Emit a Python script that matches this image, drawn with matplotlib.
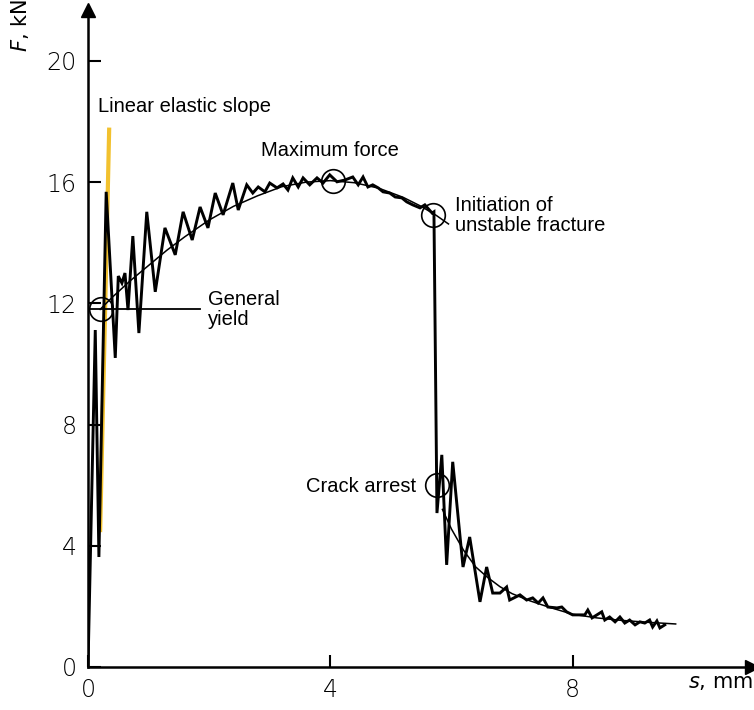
import matplotlib
matplotlib.use("Agg")
import matplotlib.pyplot as plt

# measured force-displacement record (s in mm, F in kN)
s_raw = [0.00, 0.12, 0.18, 0.30, 0.45, 0.50, 0.56, 0.61, 0.66, 0.74, 0.84, 0.97,
         1.11, 1.27, 1.44, 1.57, 1.72, 1.85, 1.98, 2.10, 2.23, 2.39, 2.48, 2.62,
         2.72, 2.81, 2.92, 3.00, 3.12, 3.22, 3.30, 3.38, 3.47, 3.55, 3.66, 3.78,
         3.88, 3.99, 4.11, 4.24, 4.37, 4.46, 4.54, 4.62, 4.70, 4.79, 4.87, 4.98,
         5.07, 5.18, 5.26, 5.36, 5.48, 5.56, 5.68, 5.71, 5.76, 5.84, 5.92, 6.02,
         6.19, 6.30, 6.47, 6.58, 6.68, 6.80, 6.91, 6.96, 7.13, 7.24, 7.34, 7.43,
         7.51, 7.59, 7.74, 7.82, 7.90, 8.00, 8.20, 8.25, 8.32, 8.48, 8.53, 8.61,
         8.70, 8.78, 8.86, 8.94, 9.03, 9.11, 9.19, 9.27, 9.32, 9.39, 9.44, 9.52]
F_raw = [0.00, 11.12, 3.63, 15.68, 10.20, 12.90, 12.67, 13.00, 11.78, 14.22, 11.02, 15.02,
         12.38, 14.49, 13.60, 15.02, 14.09, 15.18, 14.49, 15.64, 14.92, 15.97, 15.08, 15.91,
         15.64, 15.84, 15.68, 15.97, 15.81, 15.94, 15.74, 16.14, 15.84, 16.14, 15.91, 16.14,
         15.97, 16.24, 16.01, 16.07, 16.17, 15.91, 16.17, 15.84, 15.91, 15.81, 15.68, 15.64,
         15.51, 15.48, 15.35, 15.25, 15.15, 15.25, 14.98, 15.02, 5.08, 7.00, 3.37, 6.77,
         3.30, 4.29, 2.15, 3.30, 2.44, 2.44, 2.64, 2.21, 2.38, 2.21, 2.28, 2.11,
         2.28, 1.98, 1.95, 1.98, 1.82, 1.72, 1.72, 1.88, 1.62, 1.82, 1.55, 1.65,
         1.49, 1.65, 1.45, 1.55, 1.39, 1.49, 1.45, 1.55, 1.32, 1.52, 1.29, 1.39]

# smoothed trend curves
s_upper = [0.20, 0.40, 0.70, 1.00, 1.30, 1.60, 2.00, 2.40, 2.80, 3.20, 3.60, 4.00, 4.40,
           4.80, 5.20, 5.50, 5.75, 5.95]
F_upper = [11.80, 12.20, 12.75, 13.25, 13.75, 14.20, 14.75, 15.20, 15.55, 15.85, 16.00,
           16.05, 15.98, 15.80, 15.50, 15.20, 14.90, 14.62]
s_lower = [5.85, 6.00, 6.20, 6.40, 6.60, 6.80, 7.00, 7.30, 7.60, 8.00, 8.40, 8.80, 9.20, 9.70]
F_lower = [5.20, 4.55, 3.85, 3.30, 2.95, 2.65, 2.42, 2.18, 1.98, 1.74, 1.62, 1.54, 1.48, 1.42]

# linear elastic slope
s_elastic = [0.20, 0.35]
F_elastic = [4.45, 17.80]

# characteristic points
pt_names = ["General\nyield", "Maximum force", "Initiation of\nunstable fracture", "Crack arrest"]
pt_s = [0.21, 4.04, 5.70, 5.76]
pt_F = [11.80, 16.04, 14.90, 6.00]

x_ticks = [0, 4, 8]
y_ticks = [0, 4, 8, 12, 16, 20]

fig = plt.figure(figsize=(7.54, 7.10), dpi=100)
ax = fig.add_axes([88 / 754, 43 / 710, (752 - 88) / 754, (667 - 10) / 710])
ax.set_xlim(0, 10.96)
ax.set_ylim(0, 21.68)

ax.plot(s_elastic, F_elastic, color="#f2c12e", lw=3.0, solid_capstyle="butt", zorder=2)
ax.plot(s_raw, F_raw, color="black", lw=2.1, solid_joinstyle="miter", zorder=3)
ax.plot(s_upper, F_upper, color="black", lw=1.1, zorder=3)
ax.plot(s_lower, F_lower, color="black", lw=1.1, zorder=3)
ax.plot(pt_s, pt_F, "o", ms=17, mfc="none", mec="black", mew=1.2, zorder=4)

# leader line to "General yield"
ax.plot([0, 1.85], [11.80, 11.80], color="black", lw=1.3, zorder=3)

tfont = dict(family=["Liberation Sans", "DejaVu Sans"], fontsize=14.5)
ax.text(0.16, 18.5, "Linear elastic slope", va="center", ha="left", **tfont)
ax.text(1.98, 11.8, pt_names[0], va="center", ha="left", linespacing=1.05, **tfont)
ax.text(4.0, 17.05, pt_names[1], va="center", ha="center", **tfont)
ax.text(6.06, 14.9, pt_names[2], va="center", ha="left", linespacing=1.05, **tfont)
ax.text(5.41, 5.95, pt_names[3], va="center", ha="right", **tfont)

for side in ["top", "right"]:
    ax.spines[side].set_visible(False)
for side in ["left", "bottom"]:
    ax.spines[side].set_linewidth(1.8)

ax.set_xticks(x_ticks)
ax.set_yticks(y_ticks)
ax.tick_params(direction="in", length=9, width=1.5, labelsize=17, pad=8)
for lab in ax.get_xticklabels() + ax.get_yticklabels():
    lab.set_family(["Liberation Sans Narrow", "DejaVu Sans"])
    lab.set_fontweight("light")

# axis arrows
ax.plot(1, 0, ">", color="black", ms=10, transform=ax.transAxes, clip_on=False)
ax.plot(0, 1, "^", color="black", ms=10, transform=ax.transAxes, clip_on=False)

lfont = dict(family=["Liberation Sans Narrow", "DejaVu Sans"], fontsize=15)
fig.text(20 / 754, 1 - 26 / 710, r"$F$, kN", rotation=90, ha="center", va="center", **lfont)
fig.text(720 / 754, 1 - 682 / 710, r"$s$, mm", ha="center", va="center", **lfont)

fig.savefig("out.png", dpi=100)
